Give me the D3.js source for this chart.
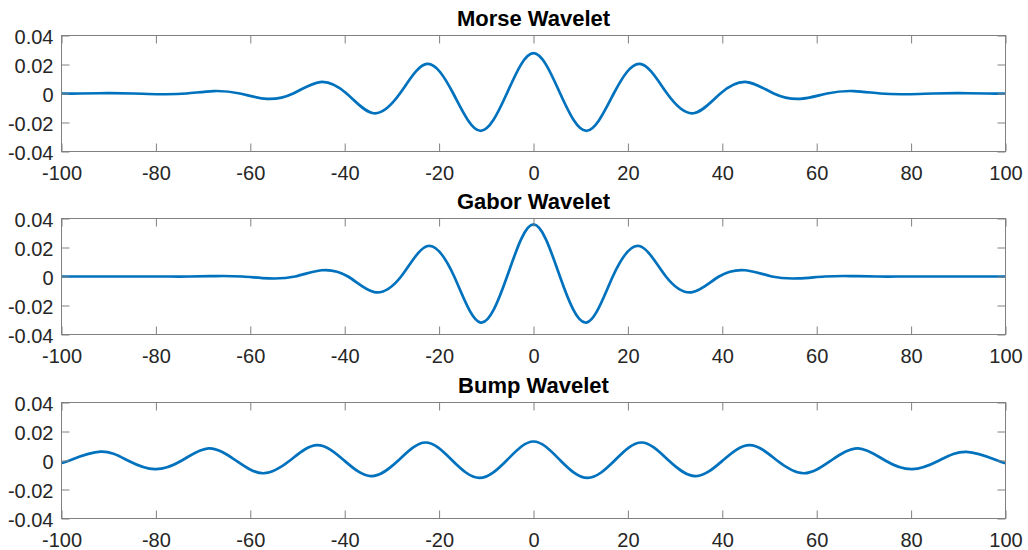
<!DOCTYPE html>
<html>
<head>
<meta charset="utf-8">
<script src="https://cdn.jsdelivr.net/npm/d3@7"></script>
<style>
  html, body { margin: 0; padding: 0; background: #ffffff; }
  svg { display: block; }
  text { font-family: "Liberation Sans", Arial, Helvetica, sans-serif; }
</style>
</head>
<body>
<svg id="chart" width="1028" height="550"></svg>
<script>
// Axis ticks shared by all three panels
const xTicks = [-100, -80, -60, -40, -20, 0, 20, 40, 60, 80, 100];
const xTickLabels = ["-100", "-80", "-60", "-40", "-20", "0", "20", "40", "60", "80", "100"];
const yTicks = [-0.04, -0.02, 0, 0.02, 0.04];
const yTickLabels = ["-0.04", "-0.02", "0", "0.02", "0.04"];

// Panel titles
const titles = ["Morse Wavelet", "Gabor Wavelet", "Bump Wavelet"];

// Morse wavelet (real part): extrema and zero crossings
const morseX = [-100, -96.1, -90.4, -84.8, -79.1, -73.5, -67.8, -62.2, -56.5, -50.9, -45.2, -39.6,
  -33.9, -28.3, -22.6, -17.0, -11.3, -5.65, 0, 5.65, 11.3, 17.0, 22.6, 28.3, 33.9, 39.6, 45.2,
  50.9, 56.5, 62.2, 67.8, 73.5, 79.1, 84.8, 90.4, 96.1, 100];
const morseY = [0.0000, 0.0000, 0.0002, 0.0000, -0.0005, 0.0000, 0.0017, 0.0000, -0.0037, 0.0000, 0.0079, 0.0000,
  -0.0136, 0.0000, 0.0204, 0.0000, -0.0257, 0.0000, 0.0278, 0.0000, -0.0257, 0.0000, 0.0204, 0.0000, -0.0136, 0.0000, 0.0079,
  0.0000, -0.0037, 0.0000, 0.0017, 0.0000, -0.0005, 0.0000, 0.0002, 0.0000, 0.0000];

// Gabor wavelet (real part)
const gaborX = [-100, -92, -85, -78.5, -72.9, -67.3, -61.7, -56.1, -50.5, -44.9, -39.3, -33.7, -28.05,
  -22.4, -16.8, -11.2, -5.6, 0, 5.6, 11.2, 16.8, 22.4, 28.05, 33.7, 39.3, 44.9, 50.5, 56.1, 61.7,
  67.3, 72.9, 78.5, 85, 92, 100];
const gaborY = [0.0000, 0.0000, 0.0000, 0.0000, 0.0000, 0.0003, 0.0000, -0.0013, 0.0000, 0.0043, 0.0000, -0.0108, 0.0000,
  0.0210, 0.0000, -0.0318, 0.0000, 0.0359, 0.0000, -0.0318, 0.0000, 0.0210, 0.0000, -0.0108, 0.0000, 0.0043, 0.0000, -0.0013, 0.0000,
  0.0003, 0.0000, 0.0000, 0.0000, 0.0000, 0.0000];

// Bump wavelet (real part)
const bumpX = [-100, -98.3, -91.75, -85.95, -80.2, -74.5, -68.8, -63.05, -57.3, -51.6, -45.85, -40.1,
  -34.4, -28.65, -22.9, -17.2, -11.45, -5.7, 0, 5.7, 11.45, 17.2, 22.9, 28.65, 34.4, 40.1, 45.85,
  51.6, 57.3, 63.05, 68.8, 74.5, 80.2, 85.95, 91.75, 98.3, 100];
const bumpY = [-0.0016, 0.0000, 0.0061, 0.0000, -0.0060, 0.0000, 0.0084, 0.0000, -0.0088, 0.0000, 0.0106, 0.0000,
  -0.0108, 0.0000, 0.0124, 0.0000, -0.0120, 0.0000, 0.0131, 0.0000, -0.0120, 0.0000, 0.0124, 0.0000, -0.0108, 0.0000, 0.0106,
  0.0000, -0.0088, 0.0000, 0.0084, 0.0000, -0.0060, 0.0000, 0.0060, 0.0000, -0.0018];

const seriesX = [morseX, gaborX, bumpX];
const seriesY = [morseY, gaborY, bumpY];

// Layout
const left = 61.5, right = 1005.5;
const panelTops = [35.5, 218.5, 402.5];
const panelH = 116;
const lineColor = "#0072BD";
const axisColor = "#808080";
const textColor = "#262626";

const svg = d3.select("#chart");

const x = d3.scaleLinear().domain([-100, 100]).range([left, right]);

titles.forEach((title, i) => {
  const top = panelTops[i];
  const bottom = top + panelH;
  const y = d3.scaleLinear().domain([-0.04, 0.04]).range([bottom, top]);
  const g = svg.append("g");

  // Data line
  const pts = seriesX[i].map((xv, k) => [xv, seriesY[i][k]]);
  const line = d3.line()
    .x(d => x(d[0]))
    .y(d => y(d[1]))
    .curve(d3.curveNatural);
  g.append("path")
    .datum(pts)
    .attr("d", line)
    .attr("fill", "none")
    .attr("stroke", lineColor)
    .attr("stroke-width", 2.7)
    .attr("stroke-linejoin", "round");

  // Box
  g.append("rect")
    .attr("x", left).attr("y", top)
    .attr("width", right - left).attr("height", panelH)
    .attr("fill", "none")
    .attr("stroke", axisColor)
    .attr("stroke-width", 1);

  const styleAxis = sel => {
    sel.select(".domain").remove();
    sel.selectAll(".tick line").attr("stroke", axisColor).attr("stroke-width", 1);
    sel.selectAll(".tick text")
      .attr("fill", textColor)
      .style("font-size", "20px")
      .style("font-family", '"Liberation Sans", Arial, Helvetica, sans-serif');
  };

  // Bottom axis with labels, inward ticks
  g.append("g")
    .attr("transform", `translate(0,${bottom})`)
    .call(d3.axisBottom(x).tickValues(xTicks).tickSize(-8).tickPadding(14)
      .tickFormat((d, k) => xTickLabels[k]))
    .call(styleAxis);

  // Top axis: ticks only
  g.append("g")
    .attr("transform", `translate(0,${top})`)
    .call(d3.axisTop(x).tickValues(xTicks).tickSize(-8).tickFormat(""))
    .call(styleAxis);

  // Left axis with labels
  g.append("g")
    .attr("transform", `translate(${left},0)`)
    .call(d3.axisLeft(y).tickValues(yTicks).tickSize(-8).tickPadding(8)
      .tickFormat((d, k) => yTickLabels[k]))
    .call(styleAxis)
    .selectAll(".tick text").attr("dy", "0.42em");

  // Right axis: ticks only
  g.append("g")
    .attr("transform", `translate(${right},0)`)
    .call(d3.axisRight(y).tickValues(yTicks).tickSize(-8).tickFormat(""))
    .call(styleAxis);

  // Title
  g.append("text")
    .attr("x", (left + right) / 2)
    .attr("y", top - 9.5)
    .attr("text-anchor", "middle")
    .attr("fill", "#000000")
    .style("font-size", "22px")
    .style("font-weight", "bold")
    .text(title);
});
</script>
</body>
</html>
